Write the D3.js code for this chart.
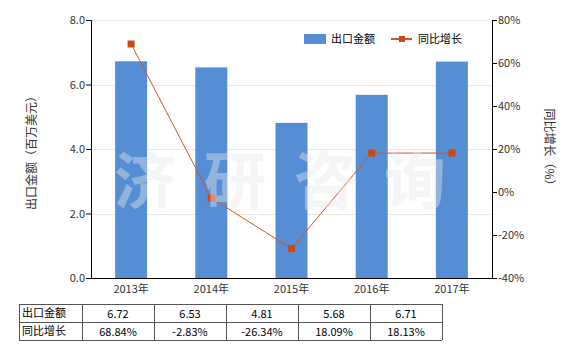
<!DOCTYPE html>
<html><head><meta charset="utf-8">
<script src="https://cdnjs.cloudflare.com/ajax/libs/d3/7.8.5/d3.min.js"></script>
<style>body{margin:0;background:#fff}svg{display:block;font-family:"Microsoft YaHei","Noto Sans CJK SC",sans-serif}</style>
</head><body><svg id="c" width="580" height="350"></svg>
<script>
const years = ["2013年","2014年","2015年","2016年","2017年"];
const exportValues = [6.72, 6.53, 4.81, 5.68, 6.71];
const growthValues = [68.84, -2.83, -26.34, 18.09, 18.13];
const exportLabels = ["6.72","6.53","4.81","5.68","6.71"];
const growthLabels = ["68.84%","-2.83%","-26.34%","18.09%","18.13%"];
const leftTicks = [0, 2, 4, 6, 8];
const rightTicks = [-40, -20, 0, 20, 40, 60, 80];
const seriesNames = ["出口金额", "同比增长"];

const svg = d3.select("#c");
const L = 91, R = 492, T = 20, B = 278;
const xc = d3.scaleBand().domain(years).range([L, R]);
const y = d3.scaleLinear().domain([0, 8]).range([B, T]);
const y2 = d3.scaleLinear().domain([-40, 80]).range([B, T]);
const textColor = "#333";

// grid
svg.append("g").selectAll("line").data(leftTicks.filter(d => d > 0)).join("line")
  .attr("x1", L).attr("x2", R).attr("y1", d => Math.round(y(d)) + 0.5).attr("y2", d => Math.round(y(d)) + 0.5)
  .attr("stroke", "#ebe9dc").attr("stroke-width", 1);

// bars
const bw = 32;
svg.append("g").selectAll("rect").data(exportValues).join("rect")
  .attr("x", (d, i) => xc(years[i]) + xc.bandwidth() / 2 - bw / 2)
  .attr("width", bw)
  .attr("y", d => y(d)).attr("height", d => B - y(d))
  .attr("fill", "#558ed5");

// line
const cx = i => xc(years[i]) + xc.bandwidth() / 2;
svg.append("path").datum(growthValues)
  .attr("d", d3.line().x((d, i) => cx(i)).y(d => y2(d)))
  .attr("fill", "none").attr("stroke", "#d0591f").attr("stroke-width", 1);
svg.append("g").selectAll("rect").data(growthValues).join("rect")
  .attr("x", (d, i) => cx(i) - 3.5).attr("y", d => y2(d) - 3.5)
  .attr("width", 7).attr("height", 7).attr("fill", "#c84a10");

// axes
const axL = svg.append("g").attr("transform", `translate(${L},0)`)
  .call(d3.axisLeft(y).tickValues(leftTicks).tickFormat(d3.format(".1f")).tickSize(5));
const axR = svg.append("g").attr("transform", `translate(${R},0)`)
  .call(d3.axisRight(y2).tickValues(rightTicks).tickFormat(d => d + "%").tickSize(5));
const axB = svg.append("g").attr("transform", `translate(0,${B})`)
  .call(d3.axisBottom(xc).tickSize(0).tickPadding(7));
axB.select(".domain").attr("d", `M${L},0.5H${R}`);
[axL, axR, axB].forEach(a => {
  a.selectAll(".domain").attr("stroke", "#000");
  a.selectAll(".tick line").attr("stroke", "#000");
  a.selectAll("text").attr("fill", textColor).style("font-size", "11px")
    .style("font-family", "'Microsoft YaHei','Noto Sans CJK SC',sans-serif");
});
axL.selectAll("text").attr("x", -6);
axR.selectAll("text").attr("x", 6);

// axis titles
svg.append("text").attr("transform", "translate(36,150) rotate(-90)")
  .attr("text-anchor", "middle").attr("fill", textColor).style("font-size", "12px")
  .text("出口金额（百万美元）");
svg.append("text").attr("transform", "translate(545,150) rotate(90)")
  .attr("text-anchor", "middle").attr("fill", textColor).style("font-size", "12px")
  .text("同比增长（%）");

// legend
const lg = svg.append("g");
lg.append("rect").attr("x", 304).attr("y", 34).attr("width", 22).attr("height", 10).attr("fill", "#558ed5");
lg.append("text").attr("x", 331).attr("y", 43).attr("fill", "#000").style("font-size", "11px").text(seriesNames[0]);
lg.append("line").attr("x1", 391).attr("x2", 412).attr("y1", 39).attr("y2", 39).attr("stroke", "#d0591f").attr("stroke-width", 2);
lg.append("rect").attr("x", 399).attr("y", 36).attr("width", 6).attr("height", 6).attr("fill", "#c84a10");
lg.append("text").attr("x", 418).attr("y", 43).attr("fill", "#000").style("font-size", "11px").text(seriesNames[1]);

// watermark
svg.append("text").attr("x", 294).attr("y", 204).attr("text-anchor", "middle")
  .style("font-size", "62px").style("font-weight", "bold").style("letter-spacing", "28px")
  .attr("fill", "#e6e6e6").attr("fill-opacity", 0.42).text("济研咨询");

// table
const tx = [19, 82, 154, 226, 298, 370, 442];
const ty = [304, 322, 340];
const tg = svg.append("g");
tg.selectAll("line.h").data(ty).join("line")
  .attr("x1", tx[0]).attr("x2", tx[tx.length - 1]).attr("y1", d => d + 0.5).attr("y2", d => d + 0.5)
  .attr("stroke", "#555");
tg.selectAll("line.v").data(tx).join("line")
  .attr("x1", d => d + 0.5).attr("x2", d => d + 0.5).attr("y1", ty[0]).attr("y2", ty[2])
  .attr("stroke", "#555");
const rows = [[seriesNames[0], exportLabels], [seriesNames[1], growthLabels]];
rows.forEach((r, ri) => {
  const yy = ty[ri] + 13;
  tg.append("text").attr("x", tx[0] + 3).attr("y", yy).attr("fill", "#000").style("font-size", "11px").text(r[0]);
  r[1].forEach((v, i) => {
    tg.append("text").attr("x", (tx[i + 1] + tx[i + 2]) / 2).attr("y", yy + 1).attr("text-anchor", "middle")
      .attr("fill", "#000").style("font-size", "11px").text(v);
  });
});
</script></body></html>
